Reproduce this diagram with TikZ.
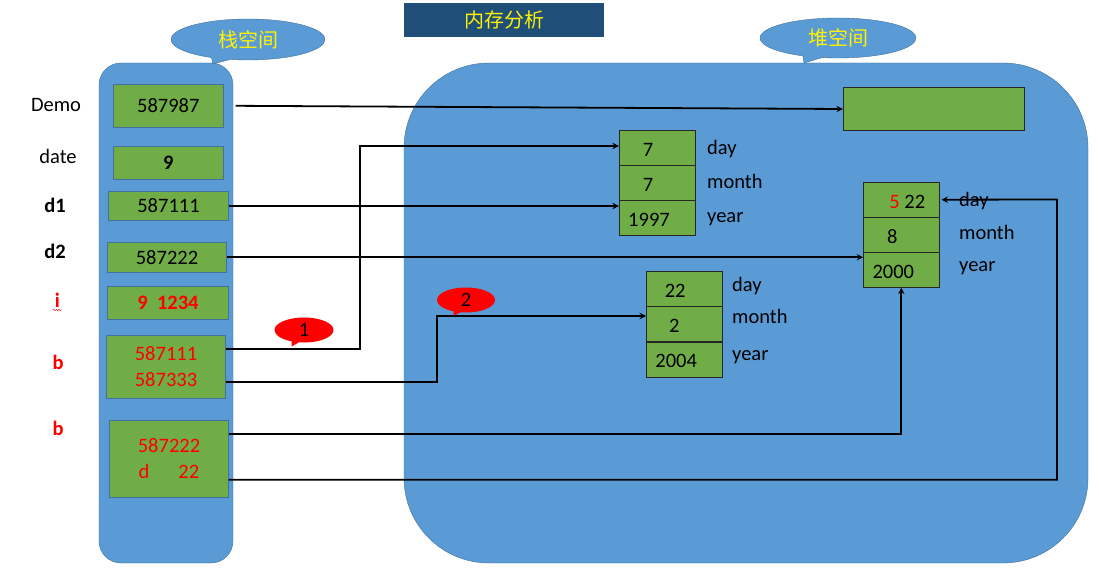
\documentclass[tikz,border=0pt]{standalone}
\usepackage{fontspec}
\setmainfont{Carlito}
\newfontfamily\cjk{Noto Sans CJK SC}
\usetikzlibrary{shapes.callouts,decorations.pathmorphing}
\definecolor{azul}{HTML}{5B9BD5}
\definecolor{borde}{HTML}{41719C}
\definecolor{verde}{HTML}{70AD47}
\definecolor{titulo}{HTML}{1F4E79}
\begin{document}
\begin{tikzpicture}[x=1pt,y=-1pt,font=\fontsize{20.5}{26}\selectfont,
    celda/.style={draw=borde, fill=verde, inner sep=0pt, align=center},
    fila/.style={draw=black!85, fill=verde, inner sep=0pt, minimum width=76pt, minimum height=35pt, text height=17pt},
    campo/.style={anchor=base west, inner sep=0pt},
    globo/.style={ellipse callout, fill=azul, draw=borde, inner sep=0pt, text=yellow, font=\cjk\fontsize{20}{24}\selectfont},
    nota/.style={ellipse callout, fill=red, inner sep=0pt, minimum width=59pt, minimum height=25pt},
    flecha/.style={-stealth, line width=1.8pt}]
    \useasboundingbox (0,0) rectangle (1099,577);

    % Montón y pila
    \draw[fill=azul, draw=borde, rounded corners=85pt] (404,63) rectangle (1088,563);
    \draw[fill=azul, draw=borde, rounded corners=22pt] (99,63) rectangle (233,563);

    % Globos y título
    \node[globo, minimum width=154pt, minimum height=41pt, callout absolute pointer={(213,64)}] (pila) at (248,39.5) {栈空间};
    \node[globo, minimum width=156pt, minimum height=40pt, callout absolute pointer={(804,63)}] (monton) at (838,38) {堆空间};
    \node[fill=titulo, text=yellow, minimum width=200pt, minimum height=34pt, font=\cjk\fontsize{20}{24}\selectfont] (titulo) at (504,20) {内存分析};

    % Nombres de la pila
    \node (nDemo) at (56,105) {Demo};
    \node (nDate) at (58,156.5) {date};
    \node[font=\fontsize{20.5}{26}\selectfont\bfseries] (nd1) at (55,205.5) {d1};
    \node[font=\fontsize{20.5}{26}\selectfont\bfseries] (nd2) at (55,251) {d2};
    \node[font=\fontsize{20.5}{26}\selectfont\bfseries, text=red] (ni) at (57.5,300.5) {i};
    \node[font=\fontsize{20.5}{26}\selectfont\bfseries, text=red] (nb) at (58,362) {b};
    \node[font=\fontsize{20.5}{26}\selectfont\bfseries, text=red] (nbb) at (58,428) {b};
    \draw[red, decorate, decoration={snake, amplitude=0.8pt, segment length=2.6pt}] (53,310) -- (62,310);

    % Celdas de la pila
    \node[celda, minimum width=110pt, minimum height=43pt] (demo) at (168.3,105.8) {587987};
    \node[celda, minimum width=110pt, minimum height=33pt, font=\fontsize{20.5}{26}\selectfont\bfseries] (date) at (168.3,162.8) {9};
    \node[celda, minimum width=120pt, minimum height=29pt] (d1) at (168.5,206) {587111};
    \node[celda, minimum width=119pt, minimum height=30pt] (d2) at (167,257.3) {587222};
    \node[celda, minimum width=121pt, minimum height=33pt, text=red, font=\fontsize{20.5}{26}\selectfont\bfseries] (i) at (168,302.7) {9\ \ 1234};
    \node[celda, minimum width=119pt, minimum height=63pt, text=red] (b) at (166,366.8) {587111\\587333};
    \node[celda, minimum width=119pt, minimum height=77pt, text=red] (bb) at (169,458.8) {587222\\d\hspace{29pt}22};

    % Objetos del montón
    \node[fill=verde, draw=black!85, minimum width=181pt, minimum height=43pt] (obj) at (933.5,109) {};

    \node[fila] (dA1) at (657,147.7) {7\kern18pt};
    \node[fila] (dA2) at (657,182.8) {7\kern18pt};
    \node[fila] (dA3) at (657,218) {1997\kern16pt};
    \node[campo] at (707,155) {day};
    \node[campo] at (707,189) {month};
    \node[campo] at (707,223) {year};

    \node[fila] (dB1) at (901.3,199.7) {\kern12pt\textcolor{red}{5}\ 22};
    \node[fila] (dB2) at (901.3,234.8) {8\kern18pt};
    \node[fila] (dB3) at (901.3,270) {2000\kern16pt};
    \node[campo] at (959,207) {day};
    \node[campo] at (959,240) {month};
    \node[campo] at (959,271) {year};

    \node[fila] (dC1) at (684.2,288.8) {22\kern18pt};
    \node[fila] (dC2) at (684.2,323.8) {2\kern20pt};
    \node[fila] (dC3) at (684.2,359.2) {2004\kern16pt};
    \node[campo] at (732,291) {day};
    \node[campo] at (732,323) {month};
    \node[campo] at (732,360) {year};

    % Referencias
    \coordinate (k1) at (360,146);
    \coordinate (k2) at (437,316);
    \coordinate (k3) at (1057,199.5);
    \draw[flecha] ([xshift=12pt]demo.east) -- (obj.west);
    \draw[flecha] (d1.east) -- (d1.east -| dA3.west);
    \draw[flecha] (d2.east) -- ([yshift=-5pt]dB3.north west);
    \draw[flecha] ([yshift=18pt]b.east) -| (k1) -- (k1 -| dA1.west);
    \draw[flecha] ([yshift=-15pt]b.east) -| (k2) -- (k2 -| dC2.west);
    \draw[flecha] ([yshift=25pt]bb.east) -| (dB3.south);
    \draw[flecha] ([yshift=-21pt]bb.east) -| (k3) -- ([xshift=2pt]dB1.east);

    % Notas numeradas
    \node[nota, callout absolute pointer={(291.7,346.5)}] (uno) at (304,330) {1};
    \node[nota, minimum width=58pt, callout absolute pointer={(454,315.5)}] (dos) at (466,300) {2};
\end{tikzpicture}
\end{document}
